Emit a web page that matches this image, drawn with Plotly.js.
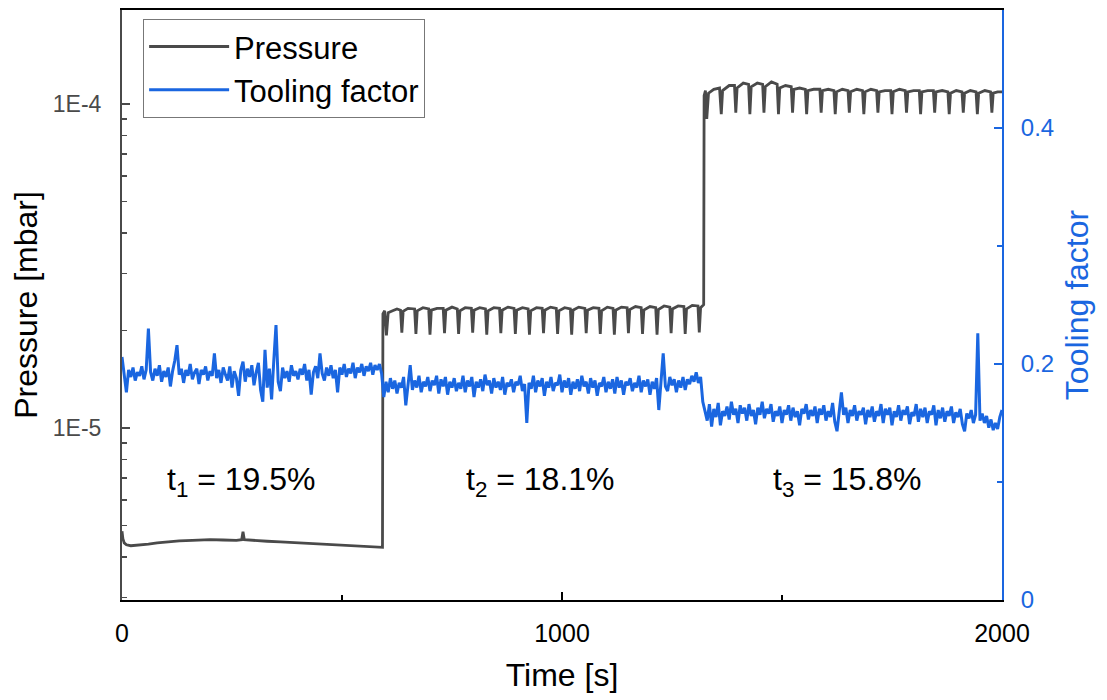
<!DOCTYPE html>
<html>
<head>
<meta charset="utf-8">
<script src="https://cdn.plot.ly/plotly-3.0.1.min.js"></script>
<style>html,body{margin:0;padding:0;background:#fff;}#chart{width:1107px;height:700px;}</style>
</head>
<body>
<div id="chart"></div>
<script>
// ---------- Pressure [mbar] vs time [s] ----------
const pressureTime = [
  0, 2, 5, 10, 20, 40, 60, 80, 100, 130, 160, 200, 230, 260, 272, 275, 278, 300, 330, 360, 400, 440, 480, 520, 560, 590, 592,
  593, 597, 601, 605, 615, 625, 633, 636, 639, 650, 665, 668, 671, 684, 697, 700, 703, 716, 730, 733, 736, 750, 762, 765, 768,
  780, 794, 797, 800, 813, 826, 829, 832, 845, 858, 861, 864, 877, 891, 894, 897, 910, 923, 926, 929, 942, 955, 958, 961,
  974, 987, 990, 993, 1006, 1019, 1022, 1025, 1038, 1052, 1055, 1058, 1071, 1084, 1087, 1090, 1103, 1116, 1119, 1122,
  1135, 1148, 1151, 1154, 1167, 1180, 1183, 1186, 1200, 1213, 1216, 1219, 1232, 1245, 1248, 1251, 1264, 1277, 1280, 1283,
  1296, 1309, 1312, 1315, 1321, 1322,
  1323, 1326, 1329, 1333, 1345, 1358, 1362, 1365, 1380, 1392, 1395, 1398, 1412, 1424, 1427, 1430, 1444, 1456, 1459, 1462,
  1476, 1489, 1492, 1495, 1508, 1521, 1524, 1527, 1540, 1553, 1556, 1559, 1572, 1586, 1589, 1592, 1605, 1618, 1621, 1624,
  1637, 1650, 1653, 1656, 1670, 1683, 1686, 1689, 1702, 1715, 1718, 1721, 1734, 1747, 1750, 1753, 1767, 1780, 1783, 1786,
  1799, 1812, 1815, 1818, 1831, 1844, 1847, 1850, 1864, 1877, 1880, 1883, 1896, 1909, 1912, 1915, 1928, 1941, 1944, 1947,
  1961, 1974, 1977, 1980, 1990, 2000
];
const pressureValue = [
  4.8e-6, 4.55e-6, 4.42e-6, 4.36e-6, 4.33e-6, 4.35e-6, 4.38e-6, 4.42e-6, 4.45e-6, 4.48e-6, 4.50e-6, 4.52e-6, 4.51e-6, 4.50e-6, 4.52e-6, 4.78e-6, 4.52e-6, 4.49e-6, 4.47e-6, 4.45e-6, 4.42e-6, 4.38e-6, 4.36e-6, 4.33e-6, 4.30e-6, 4.28e-6, 4.28e-6,
  2.25e-5, 2.30e-5, 1.93e-5, 2.27e-5, 2.30e-5, 2.33e-5, 2.31e-5, 1.97e-5, 2.29e-5, 2.34e-5, 2.33e-5, 1.95e-5, 2.30e-5, 2.35e-5, 2.33e-5, 1.94e-5, 2.31e-5, 2.34e-5, 2.34e-5, 1.96e-5, 2.31e-5, 2.36e-5, 2.33e-5, 1.95e-5, 2.30e-5,
  2.35e-5, 2.34e-5, 1.97e-5, 2.31e-5, 2.35e-5, 2.33e-5, 1.94e-5, 2.30e-5, 2.35e-5, 2.34e-5, 1.96e-5, 2.31e-5, 2.36e-5, 2.34e-5, 1.95e-5, 2.31e-5, 2.35e-5, 2.33e-5, 1.94e-5, 2.30e-5, 2.35e-5, 2.34e-5, 1.96e-5, 2.31e-5,
  2.36e-5, 2.34e-5, 1.95e-5, 2.30e-5, 2.35e-5, 2.33e-5, 1.94e-5, 2.31e-5, 2.36e-5, 2.34e-5, 1.96e-5, 2.31e-5, 2.35e-5, 2.34e-5, 1.95e-5, 2.30e-5, 2.36e-5, 2.34e-5, 1.94e-5, 2.31e-5,
  2.36e-5, 2.35e-5, 1.96e-5, 2.32e-5, 2.37e-5, 2.35e-5, 1.95e-5, 2.31e-5, 2.37e-5, 2.35e-5, 1.94e-5, 2.32e-5, 2.38e-5, 2.36e-5, 1.96e-5, 2.33e-5, 2.38e-5, 2.37e-5, 1.95e-5, 2.33e-5,
  2.39e-5, 2.38e-5, 1.97e-5, 2.35e-5, 2.40e-5, 2.40e-5,
  1.06e-4, 1.10e-4, 0.90e-4, 1.08e-4, 1.11e-4, 1.12e-4, 0.93e-4, 1.10e-4, 1.14e-4, 1.14e-4, 0.94e-4, 1.12e-4, 1.16e-4, 1.15e-4, 0.93e-4, 1.13e-4, 1.16e-4, 1.15e-4, 0.94e-4, 1.13e-4,
  1.17e-4, 1.15e-4, 0.93e-4, 1.12e-4, 1.14e-4, 1.13e-4, 0.94e-4, 1.11e-4, 1.12e-4, 1.11e-4, 0.93e-4, 1.10e-4, 1.11e-4, 1.11e-4, 0.94e-4, 1.10e-4, 1.11e-4, 1.10e-4, 0.93e-4, 1.09e-4,
  1.11e-4, 1.10e-4, 0.94e-4, 1.09e-4, 1.11e-4, 1.10e-4, 0.93e-4, 1.09e-4, 1.11e-4, 1.10e-4, 0.94e-4, 1.09e-4, 1.10e-4, 1.10e-4, 0.93e-4, 1.09e-4, 1.11e-4, 1.10e-4, 0.94e-4, 1.09e-4,
  1.10e-4, 1.10e-4, 0.93e-4, 1.09e-4, 1.10e-4, 1.10e-4, 0.94e-4, 1.09e-4, 1.10e-4, 1.09e-4, 0.93e-4, 1.08e-4, 1.10e-4, 1.09e-4, 0.94e-4, 1.08e-4, 1.10e-4, 1.09e-4, 0.93e-4, 1.08e-4,
  1.10e-4, 1.09e-4, 0.94e-4, 1.08e-4, 1.09e-4, 1.09e-4
];

// ---------- Tooling factor, sampled every 5 s from 0 to 2000 s ----------
const toolingStep = 5;
const toolingValue = [
  // 0 - 590 s
  0.206, 0.188, 0.176, 0.195, 0.189, 0.197, 0.186, 0.193, 0.190, 0.198, 0.187, 0.195, 0.230, 0.193, 0.186, 0.196, 0.190, 0.199, 0.185, 0.194,
  0.189, 0.197, 0.181, 0.194, 0.203, 0.216, 0.191, 0.196, 0.184, 0.195, 0.190, 0.200, 0.187, 0.193, 0.196, 0.183, 0.195, 0.191, 0.198, 0.186,
  0.194, 0.190, 0.209, 0.188, 0.195, 0.184, 0.197, 0.191, 0.186, 0.198, 0.180, 0.194, 0.188, 0.173, 0.195, 0.202, 0.185, 0.196, 0.189, 0.199,
  0.182, 0.193, 0.201, 0.178, 0.168, 0.212, 0.180, 0.196, 0.170, 0.203, 0.233, 0.185, 0.177, 0.197, 0.188, 0.194, 0.185, 0.199, 0.190, 0.194,
  0.187, 0.196, 0.191, 0.200, 0.186, 0.195, 0.174, 0.193, 0.198, 0.188, 0.209, 0.192, 0.186, 0.197, 0.190, 0.199, 0.188, 0.195, 0.176, 0.197,
  0.191, 0.200, 0.189, 0.196, 0.192, 0.201, 0.188, 0.197, 0.193, 0.200, 0.190, 0.198, 0.194, 0.201, 0.191, 0.199, 0.195, 0.200, 0.192,
  // 595 - 1320 s
  0.172, 0.185, 0.176, 0.188, 0.179, 0.186, 0.175, 0.184, 0.180, 0.189, 0.165, 0.183, 0.199, 0.178, 0.186, 0.180, 0.190, 0.176, 0.185, 0.181,
  0.189, 0.177, 0.186, 0.182, 0.190, 0.175, 0.187, 0.181, 0.189, 0.174, 0.185, 0.180, 0.188, 0.177, 0.184, 0.179, 0.190, 0.176, 0.186, 0.181,
  0.189, 0.172, 0.185, 0.180, 0.187, 0.177, 0.191, 0.182, 0.186, 0.175, 0.188, 0.180, 0.185, 0.178, 0.189, 0.174, 0.184, 0.181, 0.187, 0.176,
  0.185, 0.182, 0.190, 0.177, 0.183, 0.150, 0.184, 0.179, 0.190, 0.176, 0.186, 0.181, 0.188, 0.173, 0.185, 0.180, 0.189, 0.177, 0.184, 0.182,
  0.191, 0.176, 0.186, 0.180, 0.188, 0.174, 0.185, 0.179, 0.187, 0.177, 0.190, 0.181, 0.185, 0.175, 0.188, 0.180, 0.186, 0.173, 0.184, 0.181,
  0.189, 0.176, 0.185, 0.179, 0.187, 0.175, 0.189, 0.180, 0.186, 0.174, 0.185, 0.182, 0.188, 0.177, 0.184, 0.180, 0.190, 0.176, 0.186, 0.181,
  0.187, 0.174, 0.185, 0.179, 0.188, 0.161, 0.184, 0.209, 0.181, 0.177, 0.189, 0.182, 0.187, 0.176, 0.186, 0.180, 0.189, 0.178, 0.187, 0.183,
  0.190, 0.185, 0.193, 0.184, 0.189, 0.168,
  // 1325 - 2000 s
  0.160, 0.152, 0.166, 0.147, 0.162, 0.155, 0.167, 0.148, 0.160, 0.156, 0.164, 0.153, 0.168, 0.157, 0.162, 0.150, 0.165, 0.158, 0.163, 0.152,
  0.166, 0.156, 0.161, 0.149, 0.163, 0.157, 0.168, 0.154, 0.162, 0.158, 0.166, 0.151, 0.160, 0.156, 0.164, 0.150, 0.161, 0.157, 0.165, 0.152,
  0.163, 0.155, 0.160, 0.148, 0.162, 0.158, 0.166, 0.153, 0.161, 0.156, 0.164, 0.150, 0.162, 0.157, 0.165, 0.152, 0.160, 0.155, 0.167, 0.151,
  0.143, 0.162, 0.176, 0.157, 0.163, 0.150, 0.161, 0.156, 0.165, 0.152, 0.160, 0.157, 0.163, 0.149, 0.161, 0.155, 0.164, 0.151, 0.160, 0.156,
  0.166, 0.150, 0.162, 0.157, 0.163, 0.148, 0.160, 0.155, 0.165, 0.152, 0.161, 0.157, 0.164, 0.149, 0.159, 0.156, 0.166, 0.151, 0.162, 0.155,
  0.163, 0.150, 0.160, 0.157, 0.165, 0.148, 0.161, 0.154, 0.163, 0.151, 0.160, 0.156, 0.164, 0.150, 0.159, 0.155, 0.162, 0.149, 0.143, 0.158,
  0.154, 0.161, 0.150, 0.157, 0.226, 0.152, 0.158, 0.150, 0.156, 0.146, 0.153, 0.144, 0.150, 0.145, 0.155, 0.161
];
const toolingTime = toolingValue.map((_, i) => i * toolingStep);

// ---------- Labels ----------
const regionLabels = ['t<sub>1</sub> = 19.5%', 't<sub>2</sub> = 18.1%', 't<sub>3</sub> = 15.8%'];
const regionCenters = [272, 950, 1648];
const xTickVals = [0, 1000, 2000];
const yTickVals = [1e-5, 1e-4];
const yTickText = ['1E-5', '1E-4'];
const y2TickVals = [0, 0.2, 0.4];
const y2TickText = ['0', '0.2', '0.4'];

const FONT = 'Liberation Sans, Arial, sans-serif';
const GREY = '#4a4a4a';
const BLUE = '#1a66e0';

const traces = [
  {x: pressureTime, y: pressureValue, type: 'scatter', mode: 'lines', name: 'Pressure',
   line: {color: GREY, width: 2.8}, yaxis: 'y'},
  {x: toolingTime, y: toolingValue, type: 'scatter', mode: 'lines', name: 'Tooling factor',
   line: {color: BLUE, width: 3}, yaxis: 'y2'}
];

const layout = {
  width: 1107, height: 700,
  margin: {l: 122, r: 105, t: 10, b: 100},
  paper_bgcolor: '#fff', plot_bgcolor: '#fff',
  font: {family: FONT, size: 22, color: '#000'},
  showlegend: true,
  legend: {x: 0.024, y: 0.985, xanchor: 'left', yanchor: 'top', bgcolor: '#fff',
           bordercolor: '#777', borderwidth: 1, font: {family: FONT, size: 31, color: '#000'},
           itemwidth: 80, tracegroupgap: 0},
  xaxis: {
    range: [0, 2000], tickvals: xTickVals, ticks: 'inside', ticklen: 8, tickwidth: 1.5, tickcolor: '#000',
    minor: {tickvals: [500, 1500], ticks: 'inside', ticklen: 5, tickwidth: 1.5, tickcolor: '#000'},
    showline: true, linecolor: '#000', linewidth: 2, mirror: true, showgrid: false, zeroline: false,
    tickfont: {family: FONT, size: 25, color: '#000'}, ticklabelstandoff: 10,
    title: {text: 'Time [s]', font: {family: FONT, size: 32, color: '#000'}, standoff: 18}
  },
  yaxis: {
    type: 'log', range: [-5.531, -3.710], tickvals: yTickVals, ticktext: yTickText,
    ticks: 'inside', ticklen: 8, tickwidth: 1.5, tickcolor: GREY,
    minor: {ticks: 'inside', ticklen: 5, tickwidth: 1.5, tickcolor: GREY, dtick: 'D1', showgrid: false},
    showline: true, linecolor: GREY, linewidth: 2, showgrid: false, zeroline: false,
    tickfont: {family: FONT, size: 23, color: GREY}, ticklabelstandoff: 14,
    title: {text: 'Pressure [mbar]', font: {family: FONT, size: 32, color: '#000'}, standoff: 6}
  },
  yaxis2: {
    overlaying: 'y', side: 'right', range: [0, 0.5], tickvals: y2TickVals, ticktext: y2TickText,
    ticks: 'inside', ticklen: 8, tickwidth: 1.5, tickcolor: BLUE,
    minor: {tickvals: [0.1, 0.3], ticks: 'inside', ticklen: 5, tickwidth: 1.5, tickcolor: BLUE},
    showline: true, linecolor: BLUE, linewidth: 2, showgrid: false, zeroline: false,
    tickfont: {family: FONT, size: 24, color: BLUE}, ticklabelstandoff: 12,
    title: {text: 'Tooling factor', font: {family: FONT, size: 32, color: BLUE}, standoff: 12}
  },
  annotations: regionLabels.map((t, i) => ({
    x: regionCenters[i], xref: 'x', y: 0.162, yref: 'paper', text: t, showarrow: false,
    font: {family: FONT, size: 32, color: '#000'}
  }))
};

Plotly.newPlot('chart', traces, layout, {displayModeBar: false, staticPlot: true});
</script>
</body>
</html>
